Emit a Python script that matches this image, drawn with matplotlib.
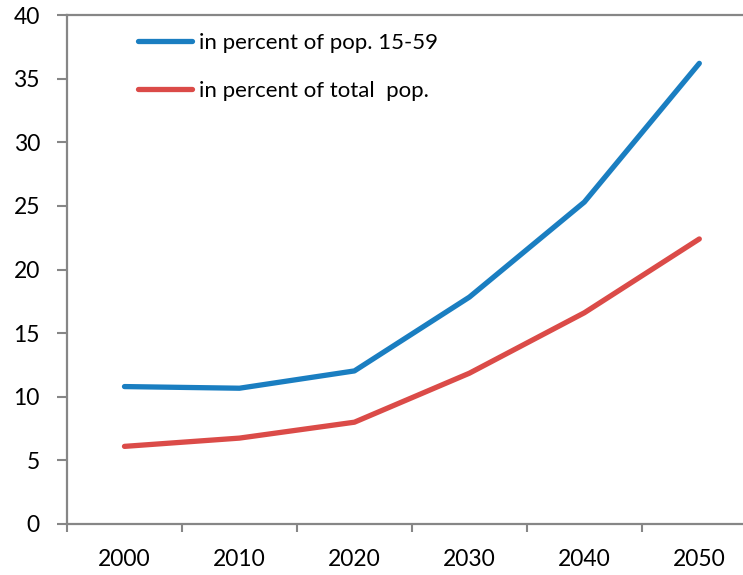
import numpy as np
import matplotlib.pyplot as plt

years = ["2000", "2010", "2020", "2030", "2040", "2050"]
pct_pop_15_59 = [10.8, 10.67, 12.03, 17.83, 25.3, 36.2]
pct_total_pop = [6.1, 6.75, 8.0, 11.85, 16.6, 22.4]

BLUE = "#1A7EC1"
RED = "#DB4B48"
AXIS_GRAY = "#868686"

plt.rcParams['font.family'] = ['Lato', 'DejaVu Sans']

fig = plt.figure(figsize=(7.43, 5.75), dpi=100)
ax = fig.add_axes([67 / 743, 51 / 575, 676 / 743, 509 / 575])

x = np.arange(len(years))
ax.plot(x, pct_pop_15_59, color=BLUE, lw=3.8, solid_capstyle='round',
        solid_joinstyle='round', label="in percent of pop. 15-59")
ax.plot(x, pct_total_pop, color=RED, lw=3.8, solid_capstyle='round',
        solid_joinstyle='round', label="in percent of total  pop.")

ax.set_ylim(0, 40)
ax.set_xlim(-0.5, 5.38)
ax.set_yticks(np.arange(0, 41, 5))

# category labels sit between the tick marks
ax.set_xticks(x)
ax.set_xticklabels(years)
ax.set_xticks(np.arange(-0.5, 5.0, 1.0), minor=True)
ax.tick_params(axis='x', which='major', length=0, pad=18, labelsize=16.5)
ax.tick_params(axis='x', which='minor', length=5.5, width=1.5,
               color=AXIS_GRAY, direction='out')
ax.tick_params(axis='y', length=7.5, width=1.5, color=AXIS_GRAY,
               direction='out', pad=12, labelsize=16.5)

for side in ['left', 'bottom', 'top']:
    ax.spines[side].set_color(AXIS_GRAY)
    ax.spines[side].set_linewidth(1.6)
ax.spines['right'].set_visible(False)

leg = ax.legend(loc='upper left', bbox_to_anchor=(138 / 743, 1 - 33 / 575),
                bbox_transform=fig.transFigure, frameon=False, fontsize=16,
                handlelength=2.45, handletextpad=0.28, labelspacing=1.24,
                borderaxespad=0, borderpad=0)

fig.savefig("out.png", dpi=100)
